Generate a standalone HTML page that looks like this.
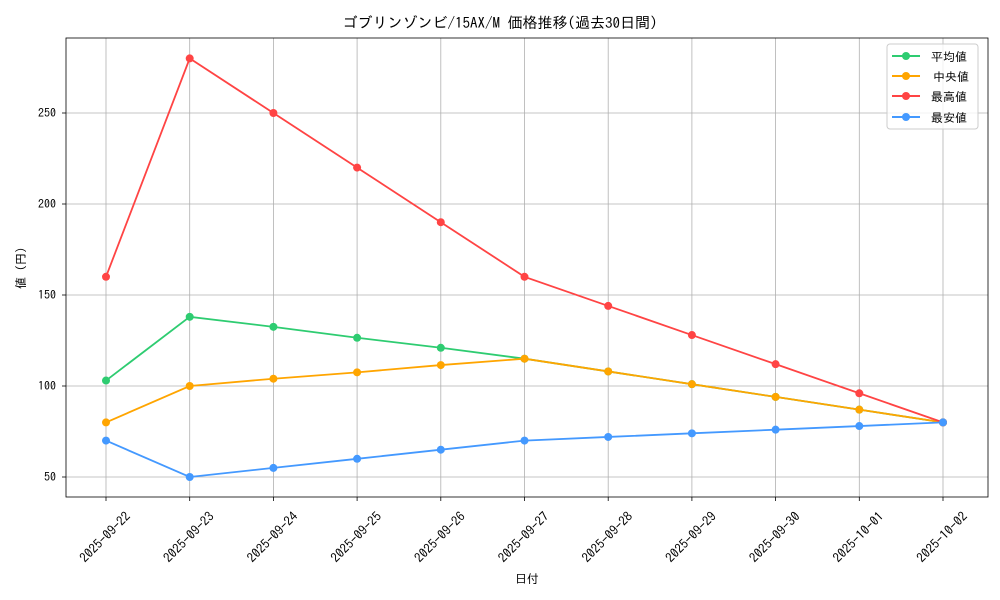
<!DOCTYPE html>
<html><head><meta charset="utf-8"><style>body{margin:0;background:#fff}svg{display:block;font-family:"IPAGothic","Noto Sans CJK JP",monospace}</style></head><body>
<svg id="s" width="1000" height="600" xmlns="http://www.w3.org/2000/svg">
<rect width="1000" height="600" fill="#fff"/>
<g stroke="#b0b0b0" stroke-width="0.8" id="grid"></g>
<rect x="66" y="38" width="922" height="459" fill="none" stroke="#000" stroke-width="0.8"/>
<text x="500" y="28" font-size="15" text-anchor="middle">ゴブリンゾンビ/15AX/M 価格推移(過去30日間)</text>
<text x="527" y="583" font-size="12" text-anchor="middle">日付</text>
<text transform="translate(25,268) rotate(-90)" font-size="12" text-anchor="middle">値 (円)</text>
<g font-size="12" text-anchor="end">
<text x="56" y="481">50</text><text x="56" y="390">100</text><text x="56" y="299">150</text><text x="56" y="208">200</text><text x="56" y="117">250</text>
</g>
<g id="xl" font-size="13" text-anchor="middle"></g>
<g id="series"></g>
<rect x="887" y="44" width="91" height="85" rx="3" fill="#fff" fill-opacity="0.8" stroke="#ccc"/>
<g stroke-width="2">
<line x1="892" y1="56" x2="920" y2="56" stroke="#2ecc71"/><circle cx="906" cy="56" r="4" fill="#2ecc71"/>
<line x1="892" y1="76" x2="920" y2="76" stroke="#ffa500"/><circle cx="906" cy="76" r="4" fill="#ffa500"/>
<line x1="892" y1="96" x2="920" y2="96" stroke="#ff4444"/><circle cx="906" cy="96" r="4" fill="#ff4444"/>
<line x1="892" y1="117" x2="920" y2="117" stroke="#4499ff"/><circle cx="906" cy="117" r="4" fill="#4499ff"/>
</g>
<g font-size="12"><text x="931" y="61">平均値</text><text x="933" y="81">中央値</text><text x="931" y="101">最高値</text><text x="931" y="122">最安値</text></g>
<g display="none"><text>2025-09-22 2025-09-23 2025-09-24 2025-09-25 2025-09-26 2025-09-27 2025-09-28 2025-09-29 2025-09-30 2025-10-01 2025-10-02</text></g>
</svg>
<script>
const ns="http://www.w3.org/2000/svg";
const dates=["2025-09-22","2025-09-23","2025-09-24","2025-09-25","2025-09-26","2025-09-27","2025-09-28","2025-09-29","2025-09-30","2025-10-01","2025-10-02"];
const X=i=>106+i*83.7, Y=v=>477-(v-50)*1.82;
const g=document.getElementById('grid'), xl=document.getElementById('xl'), se=document.getElementById('series');
function el(t,a,p){const e=document.createElementNS(ns,t);for(const k in a)e.setAttribute(k,a[k]);p.appendChild(e);return e;}
dates.forEach((d,i)=>{const x=X(i);el('line',{x1:x,x2:x,y1:38,y2:497},g);el('line',{x1:x,x2:x,y1:497,y2:501,stroke:'#000'},g);
 const t=el('text',{transform:`translate(${x-1},${537}) rotate(-45)`,dy:'0.35em'},xl);t.textContent=d;});
[50,100,150,200,250].forEach(v=>{el('line',{x1:66,x2:988,y1:Y(v),y2:Y(v)},g);el('line',{x1:62,x2:66,y1:Y(v),y2:Y(v),stroke:'#000'},g);});
const S=[["#2ecc71",[103,138,132.5,126.5,121,115,108,101,94,87,80]],
["#ffa500",[80,100,104,107.5,111.5,115,108,101,94,87,80]],
["#ff4444",[160,280,250,220,190,160,144,128,112,96,80]],
["#4499ff",[70,50,55,60,65,70,72,74,76,78,80]]];
S.forEach(([c,d])=>{el('polyline',{points:d.map((v,i)=>X(i)+','+Y(v)).join(' '),fill:'none',stroke:c,'stroke-width':1.8},se);
 d.forEach((v,i)=>el('circle',{cx:X(i),cy:Y(v),r:4,fill:c},se));});
</script>
</body></html>
